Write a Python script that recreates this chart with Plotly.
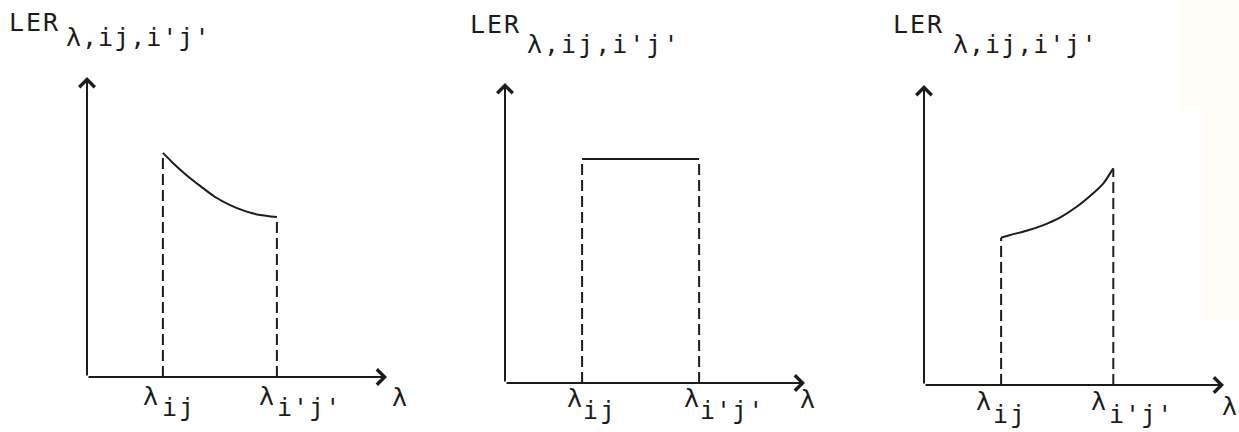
import plotly.graph_objects as go

# ---- values (λ in axis units, LER in axis units) ----
# panel 1: decreasing LER between λ_ij and λ_i'j'
p1_lam = [2.53, 2.83, 3.27, 3.77, 4.27, 4.77, 5.27, 5.77, 6.33]
p1_ler = [7.47, 7.17, 6.77, 6.37, 6.00, 5.73, 5.53, 5.40, 5.33]

# panel 2: constant LER
p2_lam = [2.57, 6.47]
p2_ler = [7.47, 7.47]

# panel 3: increasing LER
p3_lam = [2.57, 2.87, 3.42, 3.98, 4.53, 5.09, 5.64, 5.98, 6.31]
p3_ler = [4.91, 5.00, 5.14, 5.33, 5.58, 5.94, 6.39, 6.72, 7.22]

y_label_main = "LER"
y_label_sub = "λ,ij,i'j'"
x_label = "λ"
tick_sub_left = "ij"
tick_sub_right = "i'j'"

# ---- layout geometry (pixels) ----
W, H = 1239, 432
AX_MAX = 10
# (left, right, bottom, top) pixel box of each panel's axes
boxes = [(87, 387, 377, 77), (505, 805, 383, 83), (924, 1224, 385, 85)]

INK = "#1c1c1c"
FONT = "DejaVu Sans Mono"
FS = 25


def px(x):
    return x / W


def py(y):
    return 1 - y / H


fig = go.Figure()

curves = [(p1_lam, p1_ler), (p2_lam, p2_ler), (p3_lam, p3_ler)]
layout_axes = {}
for i, ((lx, ly), (l, r, b, t)) in enumerate(zip(curves, boxes), start=1):
    xa = "x" if i == 1 else f"x{i}"
    ya = "y" if i == 1 else f"y{i}"
    layout_axes[f"xaxis{'' if i == 1 else i}"] = dict(
        domain=[px(l), px(r)], range=[0, AX_MAX], visible=False, anchor=ya)
    layout_axes[f"yaxis{'' if i == 1 else i}"] = dict(
        domain=[py(b), py(t)], range=[0, AX_MAX], visible=False, anchor=xa)

    # solid LER curve
    fig.add_trace(go.Scatter(
        x=lx, y=ly, xaxis=xa, yaxis=ya, mode="lines",
        line=dict(color=INK, width=2, shape="spline", smoothing=0.6),
        hoverinfo="skip", showlegend=False, cliponaxis=False))
    # dashed verticals down to the λ axis
    for xv, yv in ((lx[0], ly[0]), (lx[-1], ly[-1])):
        fig.add_trace(go.Scatter(
            x=[xv, xv], y=[0, yv], xaxis=xa, yaxis=ya, mode="lines",
            line=dict(color=INK, width=2, dash="11px,5px"),
            hoverinfo="skip", showlegend=False, cliponaxis=False))

fig.update_layout(**layout_axes)

annotations = []
for i in range(1, 4):
    xa = "x" if i == 1 else f"x{i}"
    ya = "y" if i == 1 else f"y{i}"
    # axes drawn as arrows from the origin
    for tip in ((0, AX_MAX), (AX_MAX, 0)):
        annotations.append(dict(
            x=tip[0], y=tip[1], xref=xa, yref=ya, ax=0, ay=0, axref=xa, ayref=ya,
            showarrow=True, arrowhead=4, arrowsize=1.5, arrowwidth=2,
            arrowcolor=INK, text=""))

# text placements: (text, left px, top px, letter spacing px)
texts = [
    # panel 1
    (y_label_main, 8, 7, 2), (y_label_sub, 65, 22, 1),
    ("λ", 142, 381, 0), (tick_sub_left, 161, 392, 2),
    ("λ", 258, 381, 0), (tick_sub_right, 276, 392, 1),
    (x_label, 391, 382, 0),
    # panel 2
    (y_label_main, 469, 9, 2), (y_label_sub, 526, 29, 2),
    ("λ", 566, 383, 0), (tick_sub_left, 582, 395, 2),
    ("λ", 683, 383, 0), (tick_sub_right, 699, 395, 1),
    (x_label, 799, 384, 0),
    # panel 3
    (y_label_main, 892, 9, 2), (y_label_sub, 952, 29, 1),
    ("λ", 975, 386, 0), (tick_sub_left, 992, 399, 2),
    ("λ", 1090, 386, 0), (tick_sub_right, 1108, 399, 1),
    (x_label, 1221, 391, 0),
]
for txt, lx, ty, sp in texts:
    annotations.append(dict(
        x=px(lx), y=py(ty), xref="paper", yref="paper",
        xanchor="left", yanchor="top", showarrow=False,
        text=f'<span style="letter-spacing:{sp}px">{txt}</span>',
        font=dict(family=FONT, size=FS, color=INK), borderpad=0))

# faint yellowing of the paper along the right edge
shapes = [
    dict(type="rect", xref="paper", yref="paper", layer="below",
         x0=px(1180), x1=1, y0=py(110), y1=1,
         fillcolor="rgba(255,246,200,0.18)", line_width=0),
    dict(type="rect", xref="paper", yref="paper", layer="below",
         x0=px(1205), x1=1, y0=py(320), y1=py(110),
         fillcolor="rgba(255,246,200,0.18)", line_width=0),
]

fig.update_layout(
    width=W, height=H, margin=dict(l=0, r=0, t=0, b=0),
    paper_bgcolor="white", plot_bgcolor="white",
    annotations=annotations, shapes=shapes, showlegend=False)

fig.write_html("out.html")
